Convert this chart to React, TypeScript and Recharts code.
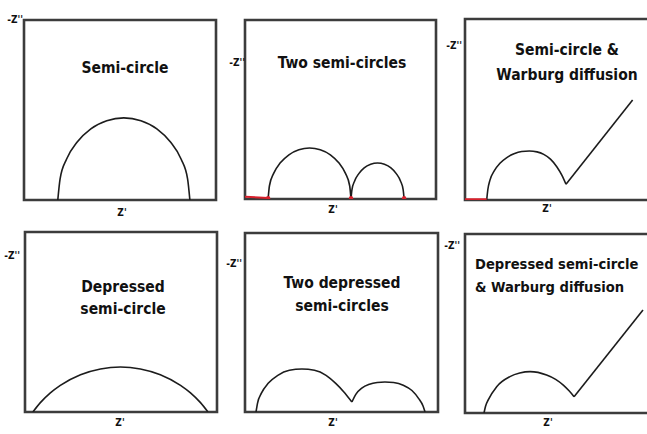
import React from 'react';
import { LineChart, Line, XAxis, YAxis, ReferenceArea } from 'recharts';

// Nyquist sketches, every curve in arbitrary Z units on a 0..100 frame
type Pt = [number, number];

const semiArc: Pt[] = [
  [17.6, 0], [18.8, 11.8], [22.2, 22.8], [27.7, 32.2], [34.8, 39.5], [43.1, 44.0], [52.0, 45.6],
  [60.9, 44.0], [69.2, 39.5], [76.3, 32.2], [81.8, 22.8], [85.2, 11.8], [86.4, 0],
];

const twoArcA: Pt[] = [
  [12.1, 0], [12.8, 7.4], [15.0, 14.3], [18.5, 20.2], [23.0, 24.7], [28.2, 27.5], [33.8, 28.5],
  [39.4, 27.5], [44.7, 24.7], [49.1, 20.2], [52.6, 14.3], [54.8, 7.4], [55.5, 0],
];
const twoArcB: Pt[] = [
  [55.5, 0], [56.0, 5.2], [57.4, 10.1], [59.6, 14.2], [62.4, 17.4], [65.8, 19.4], [69.4, 20.1],
  [73.0, 19.4], [76.4, 17.4], [79.2, 14.2], [81.4, 10.1], [82.8, 5.2], [83.3, 0],
];
const twoLead: Pt[] = [[0, 1.2], [12.1, 0.6]];
const twoNodes: Pt[] = [[12.1, 0.4], [55.5, 0.4], [83.3, 0.4]];

const warbArc: Pt[] = [
  [11.3, 0], [11.9, 5.8], [13.0, 11.0], [15.3, 16.2], [18.2, 20.3], [21.6, 23.3], [25.5, 25.5],
  [29.5, 26.8], [33.5, 27.1], [37.5, 26.6], [41.0, 25.2], [44.5, 22.6], [47.8, 18.4], [50.5, 13.6],
  [52.6, 8.7],
];
const warbTail: Pt[] = [[52.6, 8.7], [87.3, 55.2]];
const warbLead: Pt[] = [[0, 0.3], [11.3, 0.3]];

const depArc: Pt[] = [
  [4.1, 0], [8.0, 5.2], [13.2, 10.6], [18.4, 14.8], [28.9, 20.7], [39.3, 23.9], [49.7, 25.0],
  [60.1, 23.9], [70.5, 20.7], [81.0, 14.8], [86.2, 10.6], [91.4, 5.2], [95.3, 0],
];

const twoDepA: Pt[] = [
  [5.7, 0], [6.5, 5.0], [8.5, 10.5], [12.0, 16.0], [17.0, 20.5], [23.0, 23.3], [29.5, 24.0],
  [36.0, 23.3], [42.0, 20.5], [47.0, 16.0], [51.0, 11.5], [55.4, 5.6],
];
const twoDepB: Pt[] = [
  [55.4, 5.6], [57.5, 10.0], [60.5, 13.3], [64.5, 15.5], [68.5, 16.5], [72.5, 16.8], [77.0, 16.5],
  [82.0, 15.0], [86.5, 12.0], [90.0, 7.5], [92.2, 3.5], [93.3, 0],
];

const depWarbArc: Pt[] = [
  [9.9, 0], [10.7, 3.8], [12.1, 7.3], [16.5, 14.7], [23.4, 20.3], [28.5, 22.3], [33.9, 23.1],
  [42.5, 21.2], [47.2, 18.8], [51.2, 15.6], [54.2, 12.4], [56.8, 9.1],
];
const depWarbTail: Pt[] = [[56.8, 9.1], [92.7, 57.5]];

const toRows = (pts: Pt[]) => pts.map(([x, y]) => ({ x, y }));

const FONT = '"Liberation Sans Narrow", "Arial Narrow", "DejaVu Sans Condensed", "Liberation Sans", Arial, sans-serif';
const INK = '#1c1c1c';
const RED = '#d8202c';

type Series = { data: Pt[]; color?: string; width?: number; curve?: 'monotone' | 'linear'; dots?: boolean };

type Panel = {
  id: string;
  left: number; top: number; w: number; h: number;
  title: string[];
  titleX: number; titleY: number[]; anchor: 'middle' | 'start'; titleSize?: number;
  yLab: [number, number];
  xLab: [number, number];
  series: Series[];
};

const panels: Panel[] = [
  {
    id: 'semi', left: 24, top: 20, w: 192, h: 180,
    title: ['Semi-circle'], titleX: 101, titleY: [48], anchor: 'middle',
    yLab: [-1, -1], xLab: [98, 12],
    series: [{ data: semiArc }],
  },
  {
    id: 'two', left: 245, top: 20, w: 191, h: 179,
    title: ['Two semi-circles'], titleX: 97, titleY: [43], anchor: 'middle',
    yLab: [0, 42], xLab: [88, 10],
    series: [
      { data: twoLead, color: RED, width: 2, curve: 'linear' },
      { data: twoArcA },
      { data: twoArcB },
      { data: twoNodes, color: RED, dots: true },
    ],
  },
  {
    id: 'warburg', left: 465, top: 19, w: 192, h: 181,
    title: ['Semi-circle &', 'Warburg diffusion'], titleX: 102, titleY: [31, 56], anchor: 'middle',
    yLab: [-3, 26], xLab: [82, 8],
    series: [
      { data: warbArc },
      { data: warbTail, curve: 'linear' },
      { data: warbLead, color: RED, width: 2.4, curve: 'linear' },
    ],
  },
  {
    id: 'dep', left: 25, top: 232, w: 192, h: 180,
    title: ['Depressed', 'semi-circle'], titleX: 98, titleY: [55, 77], anchor: 'middle',
    yLab: [-5, 23], xLab: [95, 10],
    series: [{ data: depArc }],
  },
  {
    id: 'twodep', left: 245, top: 233, w: 193, h: 179,
    title: ['Two depressed', 'semi-circles'], titleX: 97, titleY: [50, 73], anchor: 'middle',
    yLab: [-3, 30], xLab: [88, 10],
    series: [{ data: twoDepA }, { data: twoDepB }],
  },
  {
    id: 'depwarburg', left: 465, top: 234, w: 192, h: 179,
    title: ['Depressed semi-circle', '& Warburg diffusion'], titleX: 10, titleY: [29, 52], anchor: 'start',
    titleSize: 14.6,
    yLab: [-5, 11], xLab: [83, 9],
    series: [{ data: depWarbArc }, { data: depWarbTail, curve: 'linear' }],
  },
];

const ML = 30;
const MT = 14;
const MR = 10;
const MB = 26;

const PanelText = ({ viewBox, p }: { viewBox?: any; p: Panel }) => {
  if (!viewBox) return null;
  const { x, y, height } = viewBox;
  return (
    <g fontFamily={FONT} fill="#111">
      {p.title.map((line, i) => (
        <text
          key={line}
          x={x + p.titleX}
          y={y + p.titleY[i]}
          textAnchor={p.anchor}
          dominantBaseline="central"
          fontSize={p.titleSize ?? 15.5}
          fontWeight="bold"
        >
          {line}
        </text>
      ))}
      <text x={x + p.yLab[0]} y={y + p.yLab[1]} textAnchor="end" dominantBaseline="central" fontSize={10} fontWeight="bold">
        -Z''
      </text>
      <text x={x + p.xLab[0]} y={y + height + p.xLab[1]} textAnchor="middle" dominantBaseline="central" fontSize={10} fontWeight="bold">
        Z'
      </text>
    </g>
  );
};

const NyquistPanel = ({ p }: { p: Panel }) => (
  <div style={{ position: 'absolute', left: p.left - ML, top: p.top - MT }}>
    <LineChart
      width={p.w + ML + MR}
      height={p.h + MT + MB}
      margin={{ top: MT, right: MR, bottom: MB, left: ML }}
    >
      <XAxis type="number" dataKey="x" domain={[0, 100]} hide allowDataOverflow />
      <YAxis type="number" dataKey="y" domain={[0, 100]} hide allowDataOverflow />
      <ReferenceArea
        x1={0}
        x2={100}
        y1={0}
        y2={100}
        fill="none"
        stroke="#3c3c3c"
        strokeWidth={2.6}
        label={(props: any) => <PanelText viewBox={props.viewBox} p={p} />}
      />
      {p.series.map((s, i) => (
        <Line
          key={`${p.id}-${i}`}
          data={toRows(s.data)}
          dataKey="y"
          type={s.curve ?? 'monotone'}
          stroke={s.dots ? 'none' : s.color ?? INK}
          strokeWidth={s.width ?? 1.6}
          dot={s.dots ? { r: 2.2, fill: s.color, stroke: 'none' } : false}
          activeDot={false}
          isAnimationActive={false}
        />
      ))}
    </LineChart>
  </div>
);

export default function App() {
  return (
    <div
      style={{
        position: 'fixed',
        left: 0,
        top: 0,
        width: 647,
        height: 434,
        overflow: 'hidden',
        background: '#fff',
      }}
    >
      {panels.map((p) => (
        <NyquistPanel key={p.id} p={p} />
      ))}
    </div>
  );
}
